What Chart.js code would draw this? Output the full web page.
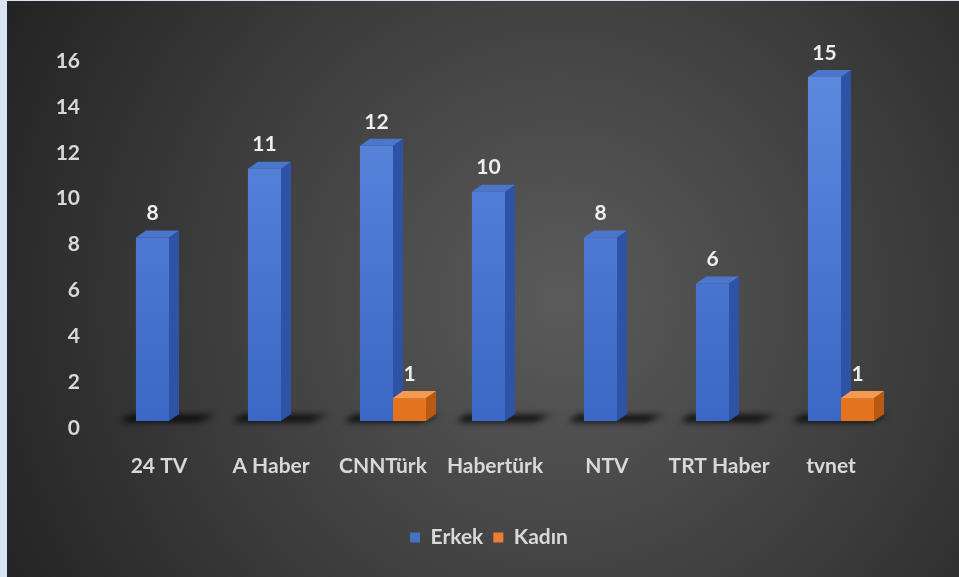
<!DOCTYPE html>
<html>
<head>
<meta charset="utf-8">
<script src="https://cdn.jsdelivr.net/npm/chart.js@4/dist/chart.umd.min.js"></script>
<style>
  html, body { margin: 0; padding: 0; overflow: hidden; background: #dae3f3; }
  canvas { display: block; }
</style>
</head>
<body>
<canvas id="c" width="959" height="577"></canvas>
<script>
const categories = ['24 TV', 'A Haber', 'CNNTürk', 'Habertürk', 'NTV', 'TRT Haber', 'tvnet'];
const erkek = [8, 11, 12, 10, 8, 6, 15];
const kadin = [0, 0, 1, 0, 0, 0, 1];
const yTicks = [0, 2, 4, 6, 8, 10, 12, 14, 16];

const FONT = 'Lato, "Open Sans", sans-serif';
const DX = 10, DY = 7; // depth of the fake 3D bars

const PALETTE = {
  Erkek: { top: '#5f8be0', bottom: '#3b67c6', side: '#2d52a6', cap: '#4a76cc', key: '#4472c4' },
  'Kadın': { top: '#f58a3c', bottom: '#e4731f', side: '#b85a16', cap: '#f39a55', key: '#ed7d31' },
};

function frontGradient(name) {
  return (c) => {
    const p = PALETTE[name];
    const area = c.chart.chartArea;
    if (!area) return p.bottom;
    const g = c.chart.ctx.createLinearGradient(0, area.top, 0, area.bottom);
    g.addColorStop(0, p.top);
    g.addColorStop(1, p.bottom);
    return g;
  };
}

// dark radial backdrop with the light strip on the left edge
const backdrop = {
  id: 'backdrop',
  beforeDraw(chart) {
    const ctx = chart.ctx;
    ctx.save();
    ctx.fillStyle = '#dae3f3';
    ctx.fillRect(0, 0, chart.width, chart.height);
    const g = ctx.createRadialGradient(560, 300, 10, 560, 300, 620);
    g.addColorStop(0, '#5a5a5a');
    g.addColorStop(0.55, '#3d3d3d');
    g.addColorStop(1, '#242424');
    ctx.fillStyle = g;
    ctx.fillRect(7, 1, chart.width - 7, chart.height - 1);
    ctx.restore();
  },
};

// floor shadows + side and top faces; fronts are drawn by Chart.js itself
const bar3d = {
  id: 'bar3d',
  beforeDatasetsDraw(chart) {
    const ctx = chart.ctx;
    const m0 = chart.getDatasetMeta(0), m1 = chart.getDatasetMeta(1);
    ctx.save();
    ctx.filter = 'blur(3px)';
    ctx.fillStyle = 'rgba(0,0,0,0.85)';
    m0.data.forEach((b0, i) => {
      const b1 = m1.data[i];
      const p0 = b0.getProps(['x', 'base', 'width'], true);
      const p1 = b1.getProps(['x', 'width'], true);
      const l = p0.x - p0.width / 2, r = p1.x + p1.width / 2;
      const base = p0.base;
      ctx.beginPath();
      ctx.moveTo(l - 16, base + 1);
      ctx.lineTo(r - 4, base + 1);
      ctx.lineTo(r + DX + 4, base - DY + 1);
      ctx.lineTo(l - 6, base - DY + 1);
      ctx.closePath();
      ctx.fill();
    });
    ctx.restore();

    ctx.save();
    chart.data.datasets.forEach((ds, di) => {
      const p = PALETTE[ds.label];
      chart.getDatasetMeta(di).data.forEach((bar, i) => {
        if (!ds.data[i]) return;
        const { x, y, base, width } = bar.getProps(['x', 'y', 'base', 'width'], true);
        const l = x - width / 2, r = x + width / 2;
        ctx.fillStyle = p.side;
        ctx.beginPath();
        ctx.moveTo(r, y);
        ctx.lineTo(r + DX, y - DY);
        ctx.lineTo(r + DX, base - DY);
        ctx.lineTo(r, base);
        ctx.closePath();
        ctx.fill();
        ctx.fillStyle = p.cap;
        ctx.beginPath();
        ctx.moveTo(l, y);
        ctx.lineTo(l + DX, y - DY);
        ctx.lineTo(r + DX, y - DY);
        ctx.lineTo(r, y);
        ctx.closePath();
        ctx.fill();
      });
    });
    ctx.restore();
  },
  afterDatasetsDraw(chart) {
    const ctx = chart.ctx;
    ctx.save();
    ctx.font = 'bold 21px ' + FONT;
    ctx.fillStyle = '#eeeeee';
    ctx.textAlign = 'center';
    ctx.textBaseline = 'middle';
    chart.data.datasets.forEach((ds, di) => {
      chart.getDatasetMeta(di).data.forEach((bar, i) => {
        if (!ds.data[i]) return;
        const { x, y } = bar.getProps(['x', 'y'], true);
        ctx.fillText(String(ds.data[i]), x, y - DY - 17);
      });
    });
    ctx.restore();
  },
};

new Chart(document.getElementById('c'), {
  type: 'bar',
  data: {
    labels: categories,
    datasets: [
      { label: 'Erkek', data: erkek, backgroundColor: frontGradient('Erkek'), borderWidth: 0 },
      { label: 'Kadın', data: kadin, backgroundColor: frontGradient('Kadın'), borderWidth: 0 },
    ],
  },
  options: {
    responsive: false,
    animation: false,
    // left/right padding chosen so the legend sits where the original has it
    layout: { padding: { top: 54, right: 31, bottom: 19, left: 50 } },
    datasets: { bar: { categoryPercentage: 0.59, barPercentage: 1 } },
    plugins: {
      legend: {
        position: 'bottom',
        labels: {
          color: '#d9d9d9',
          font: { family: FONT, size: 21, weight: 'bold' },
          boxWidth: 10,
          boxHeight: 10,
          padding: 10,
          generateLabels(chart) {
            return chart.data.datasets.map((ds, i) => ({
              text: ds.label,
              fillStyle: PALETTE[ds.label].key,
              strokeStyle: PALETTE[ds.label].key,
              lineWidth: 0,
              fontColor: '#d9d9d9',
              datasetIndex: i,
            }));
          },
        },
      },
      tooltip: { enabled: false },
    },
    scales: {
      x: {
        grid: { display: false, drawTicks: false },
        border: { display: false },
        ticks: {
          color: '#d9d9d9',
          font: { family: FONT, size: 21, weight: 'bold' },
          padding: 33,
          labelOffset: -10,
          maxRotation: 0,
        },
        afterFit(s) { s.height = 96; },
      },
      y: {
        min: 0,
        max: yTicks[yTicks.length - 1],
        grid: { display: false, drawTicks: false },
        border: { display: false },
        afterBuildTicks(s) { s.ticks = yTicks.map((v) => ({ value: v })); },
        ticks: {
          color: '#d9d9d9',
          font: { family: FONT, size: 21, weight: 'bold' },
          padding: 33,
          labelOffset: 7,
        },
        afterFit(s) { s.width = 63; },
      },
      // empty spacer on the right so the plot ends where the original does
      spacer: {
        position: 'right',
        grid: { display: false, drawTicks: false },
        border: { display: false },
        ticks: { display: false },
        afterFit(s) { s.width = 31; },
      },
    },
  },
  plugins: [backdrop, bar3d],
});
</script>
</body>
</html>
